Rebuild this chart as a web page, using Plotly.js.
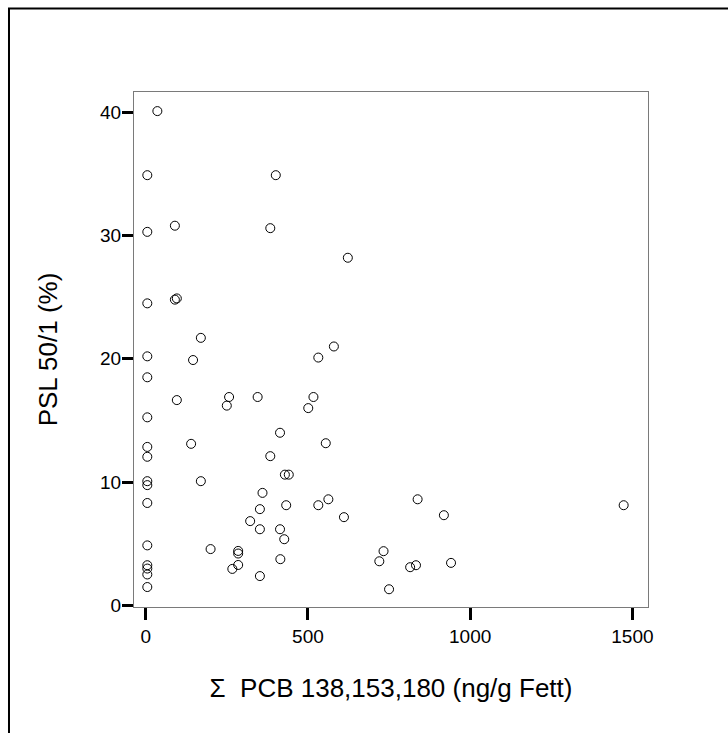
<!DOCTYPE html>
<html>
<head>
<meta charset="utf-8">
<script src="https://cdn.plot.ly/plotly-3.0.1.min.js"></script>
<style>
  html, body { margin: 0; padding: 0; background: #fff; }
  #chart { width: 728px; height: 733px; }
</style>
</head>
<body>
<div id="chart"></div>
<script>
// Σ PCB 138,153,180 (ng/g Fett)
const pcbSum = [
  36, 5, 401, 90, 5, 384, 623, 5, 90, 96,
  170, 580, 5, 146, 532, 5, 96, 257, 250, 345,
  517, 501, 5, 414, 140, 555, 5, 5, 384, 429,
  441, 5, 5, 170, 360, 5, 352, 433, 532, 563,
  611, 322, 352, 414, 427, 5, 200, 285, 285, 415,
  285, 267, 5, 5, 5, 352, 5, 733, 720, 750,
  838, 919, 815, 833, 941, 1473
];
// PSL 50/1 (%)
const psl = [
  40.1, 34.9, 34.9, 30.8, 30.3, 30.6, 28.2, 24.5, 24.8, 24.9,
  21.7, 21.0, 20.2, 19.9, 20.1, 18.5, 16.65, 16.9, 16.2, 16.9,
  16.9, 16.0, 15.25, 14.0, 13.1, 13.15, 12.85, 12.05, 12.1, 10.6,
  10.6, 10.07, 9.75, 10.07, 9.12, 8.3, 7.8, 8.12, 8.12, 8.6,
  7.15, 6.83, 6.17, 6.17, 5.36, 4.86, 4.56, 4.41, 4.2, 3.74,
  3.27, 2.95, 3.25, 2.98, 2.5, 2.37, 1.48, 4.39, 3.57, 1.3,
  8.6, 7.31, 3.09, 3.25, 3.44, 8.12
];
const xTicks = [0, 500, 1000, 1500];
const yTicks = [0, 10, 20, 30, 40];
const xTitle = 'Σ  PCB 138,153,180 (ng/g Fett)';
const yTitle = 'PSL 50/1 (%)';

const trace = {
  x: pcbSum,
  y: psl,
  type: 'scatter',
  mode: 'markers',
  marker: { symbol: 'circle-open', size: 9, color: '#000', line: { width: 1, color: '#000' } },
  hoverinfo: 'x+y',
  cliponaxis: false
};

const fontFam = 'Liberation Sans, Arial, sans-serif';

const layout = {
  width: 728,
  height: 733,
  margin: { l: 134, r: 80, t: 92, b: 126, pad: 0 },
  paper_bgcolor: '#fff',
  plot_bgcolor: '#fff',
  showlegend: false,
  font: { family: fontFam, color: '#000' },
  xaxis: {
    range: [-36, 1548],
    tickvals: xTicks,
    ticktext: xTicks.map(String),
    ticks: 'outside', ticklen: 12, tickwidth: 3, tickcolor: '#000',
    showline: true, mirror: true, linecolor: '#7a7a7a', linewidth: 1,
    showgrid: false, zeroline: false,
    tickfont: { family: fontFam, size: 19, color: '#000' },
    title: { text: xTitle, font: { family: fontFam, size: 26, color: '#000' }, standoff: 33 }
  },
  yaxis: {
    range: [-0.14, 41.65],
    tickvals: yTicks,
    ticktext: yTicks.map(String),
    ticks: 'outside', ticklen: 11, tickwidth: 3, tickcolor: '#000',
    ticklabelstandoff: -3,
    showline: true, mirror: true, linecolor: '#7a7a7a', linewidth: 1,
    showgrid: false, zeroline: false,
    tickfont: { family: fontFam, size: 19, color: '#000' },
    title: { text: yTitle, font: { family: fontFam, size: 26, color: '#000' }, standoff: 34 }
  },
  shapes: [{
    type: 'rect', xref: 'paper', yref: 'paper',
    x0: -0.2432, x1: 1.2, y0: -0.3, y1: 1.162,
    line: { color: '#000', width: 2 }, fillcolor: 'rgba(0,0,0,0)', layer: 'below'
  }]
};

Plotly.newPlot('chart', [trace], layout, { displayModeBar: false, staticPlot: true });
</script>
</body>
</html>
